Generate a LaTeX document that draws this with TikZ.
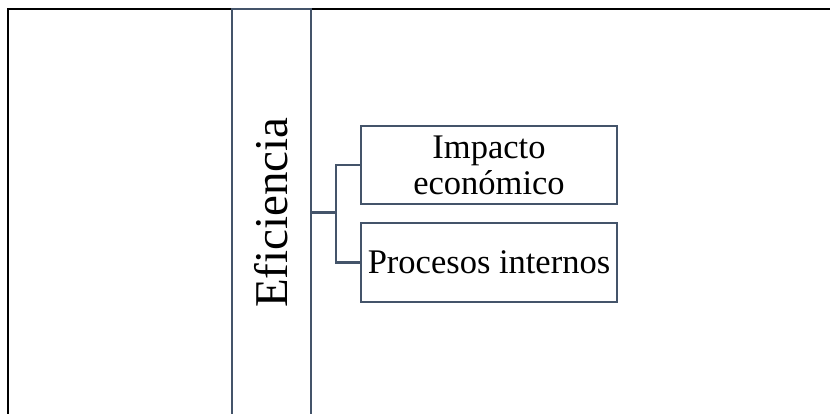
\documentclass[tikz,border=0pt]{standalone}
\usepackage{fontspec}
\setmainfont{Liberation Serif}
\definecolor{slate}{HTML}{44546A}
\tikzset{
  frameline/.style={draw=black, line width=2.2pt},
  catbox/.style={draw=slate, line width=2.2pt, fill=white, rotate=90,
    minimum width=407pt, minimum height=79pt, inner sep=0pt,
    font=\fontsize{47}{50}\selectfont},
  itembox/.style={draw=slate, line width=2.2pt, fill=white,
    minimum width=256pt, minimum height=78pt, inner sep=0pt, align=center,
    font=\fontsize{34.5}{36}\selectfont},
  conn/.style={draw=slate, line width=2.2pt}
}
\begin{document}
\begin{tikzpicture}[x=1pt, y=-1pt]
  \useasboundingbox (0,0) rectangle (830,414);
  \clip (0,0) rectangle (830,414);
  % open outer frame
  \coordinate (fbl) at (8,420);
  \coordinate (ftl) at (8,9);
  \coordinate (ftr) at (836,9);
  \draw[frameline] (fbl) -- (ftl) -- (ftr);
  % category column
  \node[catbox] (efi) at (271.5,212.5) {Eficiencia};
  % items
  \node[itembox] (b1) at (489,165) {Impacto\\económico};
  \node[itembox, minimum height=79pt] (b2) at (489,262.5) {Procesos internos};
  % connectors
  \coordinate (split) at (336,212.5);
  \draw[conn] (efi.south) -- (split);
  \draw[conn] (b1.west) -| (split) |- (b2.west);
\end{tikzpicture}
\end{document}
